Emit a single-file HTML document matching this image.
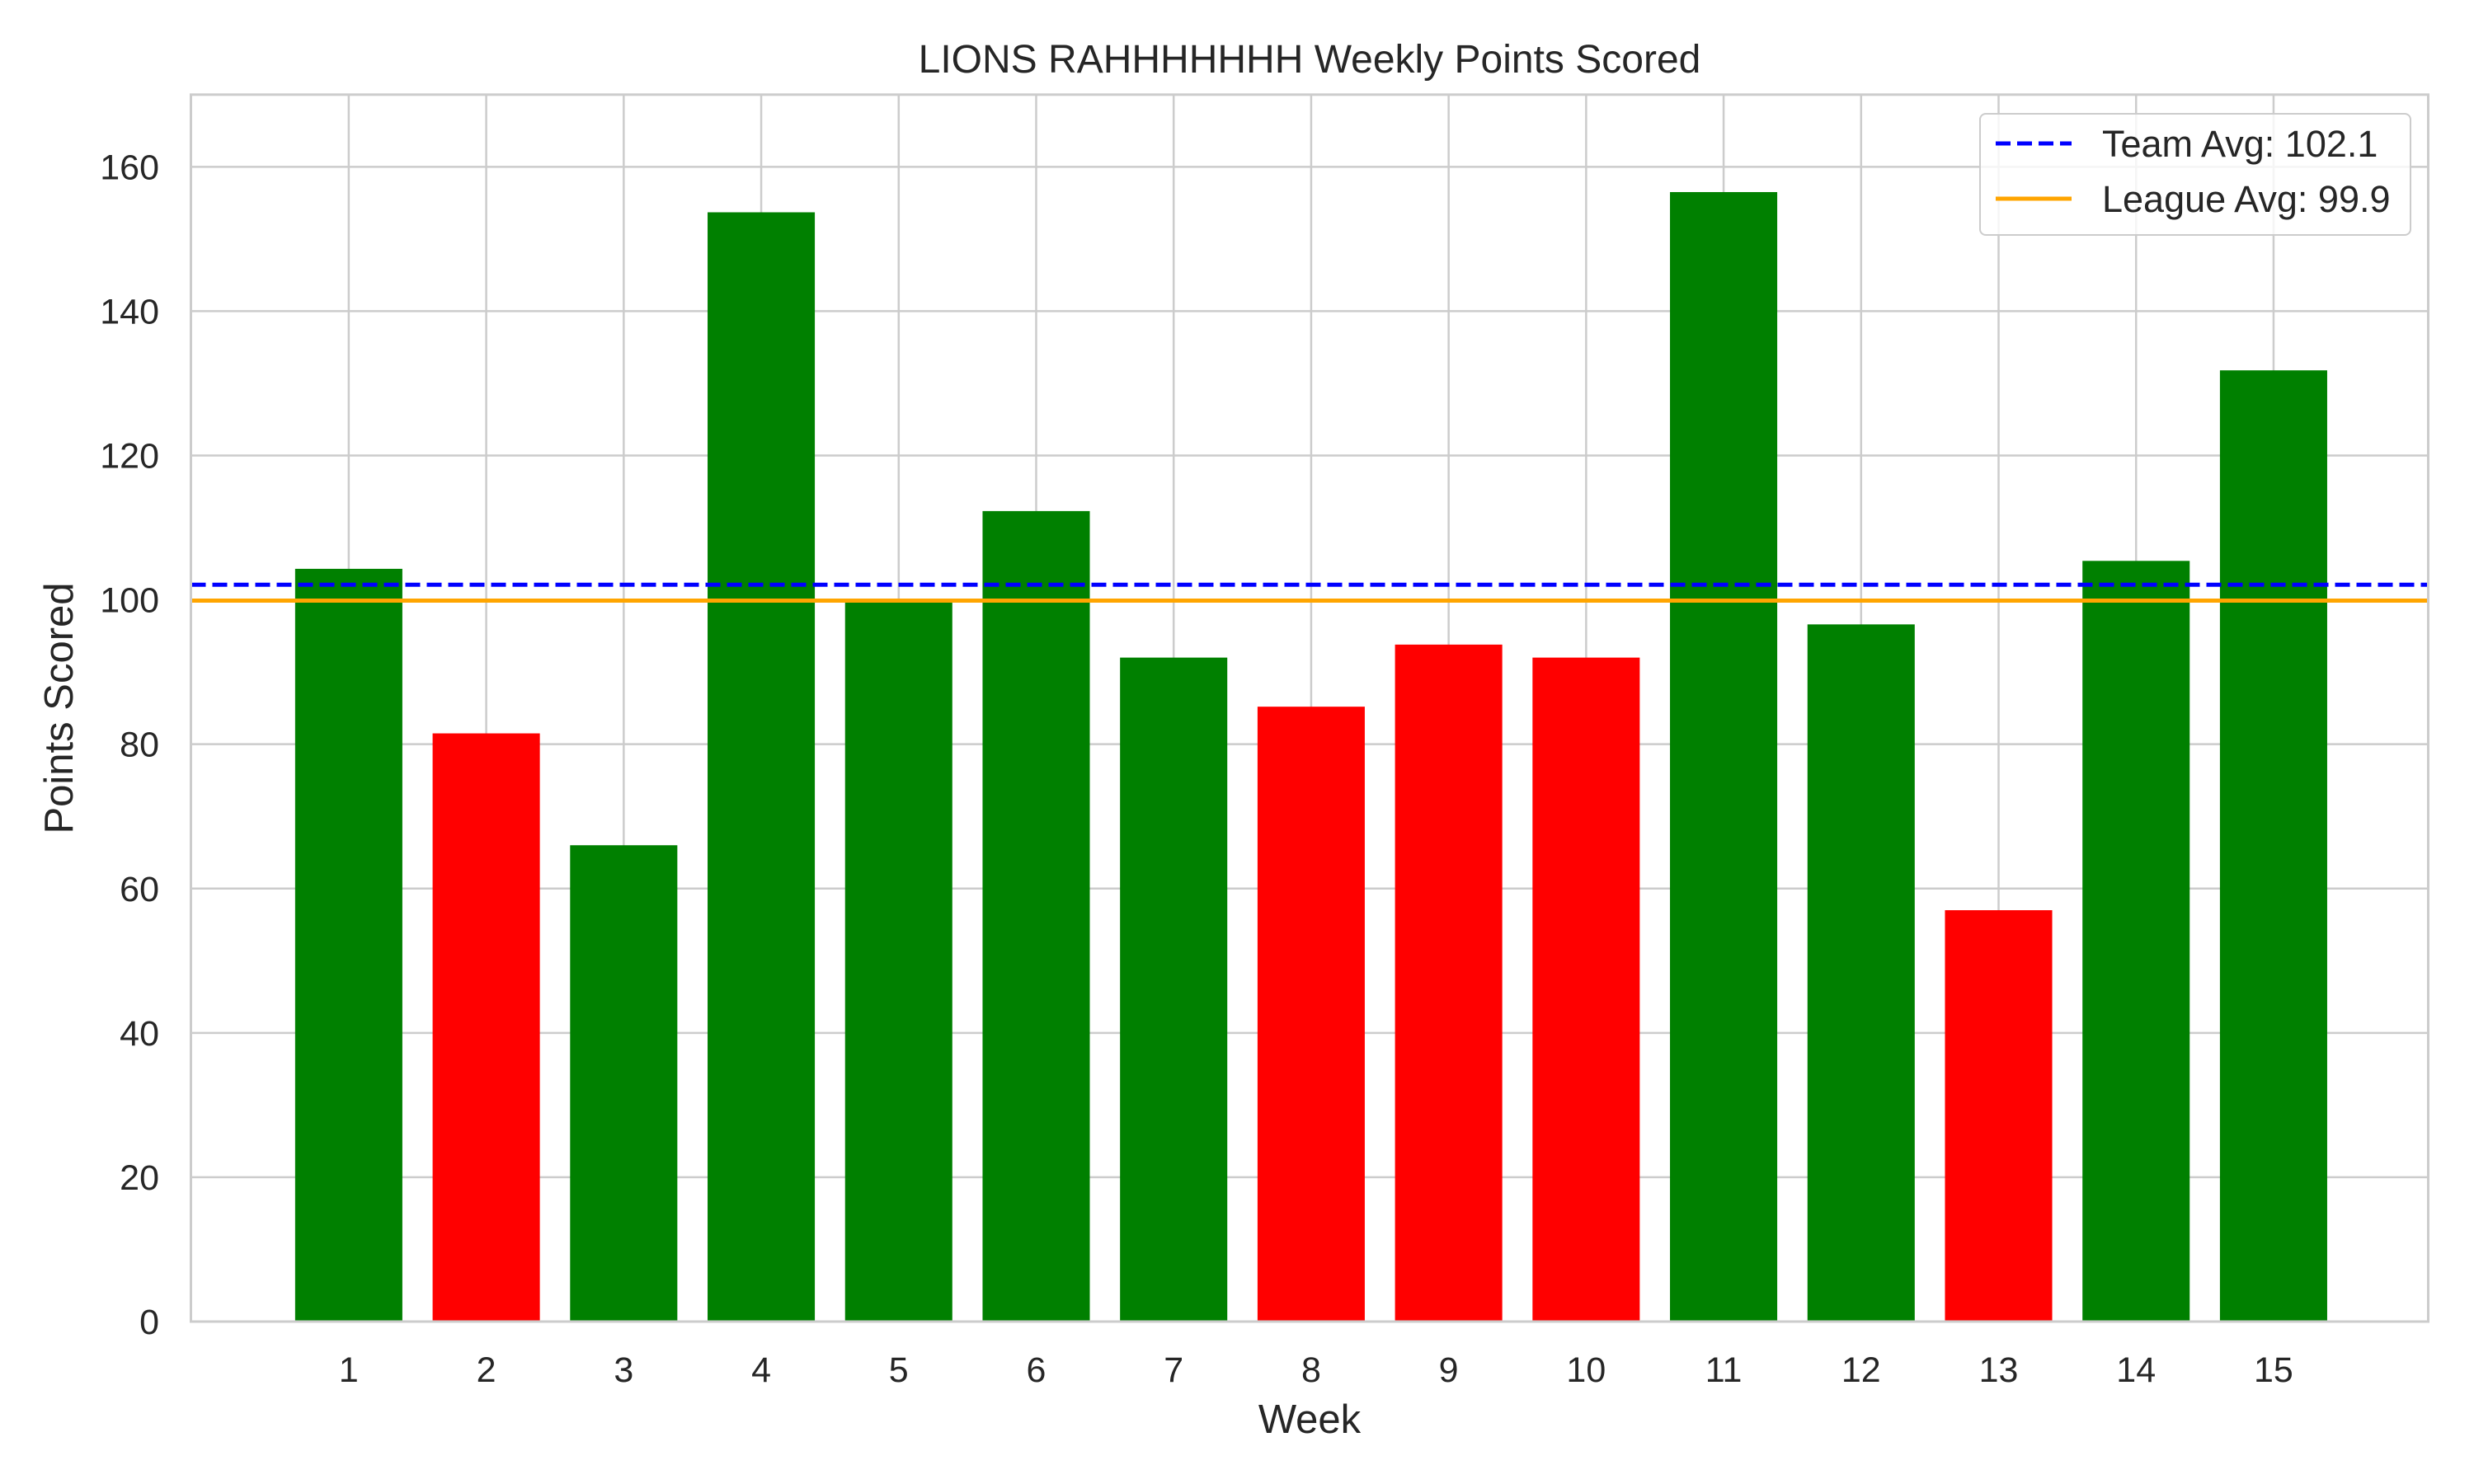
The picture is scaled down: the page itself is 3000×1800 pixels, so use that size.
<!DOCTYPE html>
<html><head><meta charset="utf-8"><style>
html,body{margin:0;padding:0;background:#fff;}
svg{display:block;font-family:"Liberation Sans","DejaVu Sans",sans-serif;}
</style></head><body>
<svg id="chart" width="3000" height="1800" viewBox="0 0 3000 1800" xmlns="http://www.w3.org/2000/svg">
<rect width="3000" height="1800" fill="#fff"/>
<g id="grid"></g>
<g id="bars"></g>
<g id="lines"></g>
<rect x="231.5" y="114.8" width="2713" height="1488.2" fill="none" stroke="#cccccc" stroke-width="3"/>
<g id="ticks" font-size="43" fill="#262626"></g>
<text x="1588" y="88" font-size="48" text-anchor="middle" fill="#262626">LIONS RAHHHHHHH Weekly Points Scored</text>
<text x="1588" y="1738" font-size="49" text-anchor="middle" fill="#262626">Week</text>
<text x="0" y="0" font-size="49" text-anchor="middle" fill="#262626" transform="translate(88,859) rotate(-90)">Points Scored</text>
<g id="legend">
<rect x="2401" y="138" width="522" height="147" rx="7" fill="#fff" fill-opacity="0.8" stroke="#cccccc" stroke-width="2"/>
<line x1="2420" y1="174" x2="2512" y2="174" stroke="#0000ff" stroke-width="5" stroke-dasharray="18,8"/>
<text x="2549" y="190" font-size="45" fill="#262626">Team Avg: 102.1</text>
<line x1="2420" y1="241" x2="2512" y2="241" stroke="#ffa500" stroke-width="5"/>
<text x="2549" y="257" font-size="45" fill="#262626">League Avg: 99.9</text>
</g>
</svg>
<script>
const weeks = [1,2,3,4,5,6,7,8,9,10,11,12,13,14,15];
const points = [104.3,81.5,66,153.7,100.1,112.3,92,85.2,93.8,92,156.5,96.6,57,105.4,131.8];
const results = ["W","L","W","W","W","W","W","L","L","L","W","W","L","W","W"];
const yTicks = [0,20,40,60,80,100,120,140,160];
const teamAvg = 102.1;
const leagueAvg = 99.9;

const NS = "http://www.w3.org/2000/svg";
const L = 231.5, R = 2944.5, T = 114.8, B = 1603;
const xMin = -1.148, xMax = 15.125, yMax = 170;
const xs = i => L + (i - xMin) / (xMax - xMin) * (R - L);
const ys = v => B - v / yMax * (B - T);
const bw = (xs(0.78) - xs(0));
function mk(tag, attrs, parent) { const e = document.createElementNS(NS, tag); for (const k in attrs) e.setAttribute(k, attrs[k]); parent.appendChild(e); return e; }
const grid = document.getElementById('grid'), bars = document.getElementById('bars'), lines = document.getElementById('lines'), ticks = document.getElementById('ticks');
yTicks.forEach(v => {
  const g = mk('line', {x1: L, x2: R, y1: ys(v), y2: ys(v), stroke: '#cccccc', 'stroke-width': 2.5}, grid);
  
  
  const t = mk('text', {x: 193, y: ys(v) + 15, 'text-anchor': 'end'}, ticks);
  t.textContent = v;
  
  
});
weeks.forEach((w, i) => {
  const g = mk('line', {x1: xs(i), x2: xs(i), y1: T, y2: B, stroke: '#cccccc', 'stroke-width': 2.5}, grid);
  
  
  const r = mk('rect', {x: xs(i) - bw / 2, y: ys(points[i]), width: bw, height: B - ys(points[i]), fill: results[i] === 'W' ? '#008000' : '#ff0000'}, bars);
  
  
  const t = mk('text', {x: xs(i), y: 1676, 'text-anchor': 'middle'}, ticks);
  t.textContent = w;
  
  
});
const tl = mk('line', {x1: L, x2: R, y1: ys(teamAvg), y2: ys(teamAvg), stroke: '#0000ff', 'stroke-width': 5, 'stroke-dasharray': '18,8'}, lines);


const ll = mk('line', {x1: L, x2: R, y1: ys(leagueAvg), y2: ys(leagueAvg), stroke: '#ffa500', 'stroke-width': 5}, lines);


</script>
</body></html>
